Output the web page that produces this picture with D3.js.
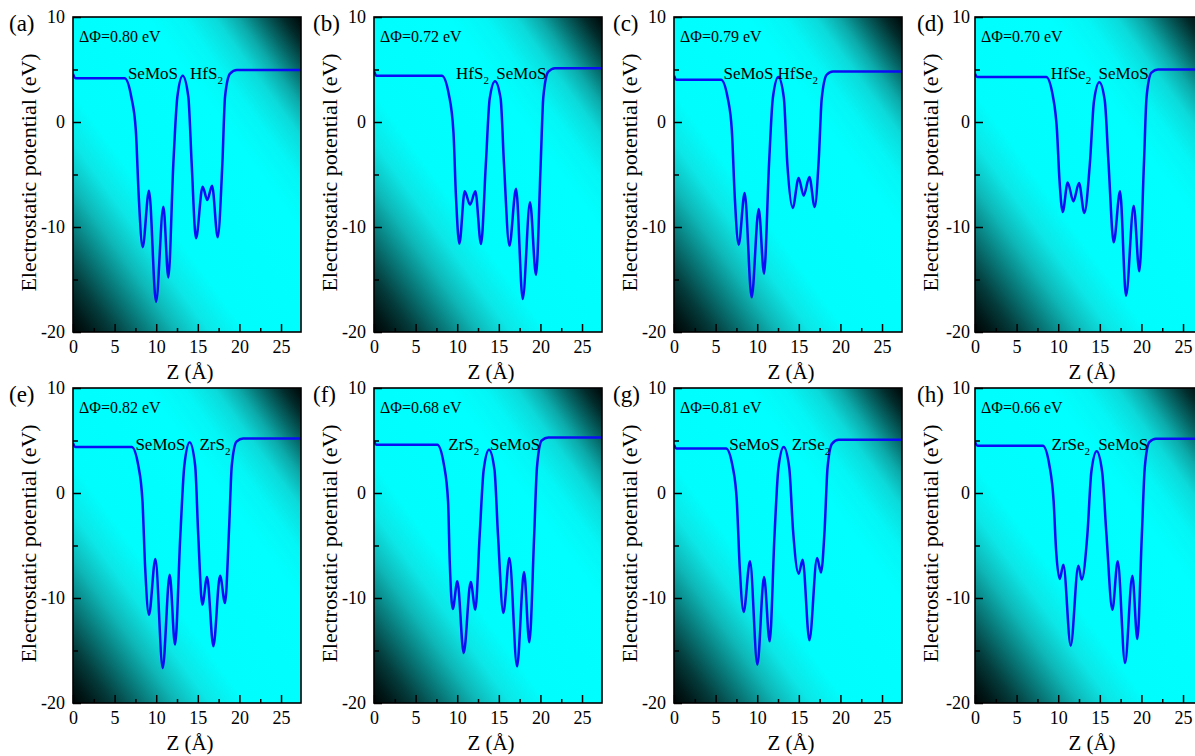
<!DOCTYPE html>
<html>
<head>
<meta charset="utf-8">
<script src="https://cdn.jsdelivr.net/npm/d3@7"></script>
<style>
  body { margin: 0; background: #fff; }
  svg text { font-family: "Liberation Serif", "Times New Roman", serif; }
</style>
</head>
<body>
<div id="chart"></div>
<script>
// Planar averaged electrostatic potential of SeMoS / MX2 heterostructures
// 8 panels, curves as [z (A), V (eV)] points
//=============================================================================

var potA = [[0, 4.57], [0.3, 4.16], [6.2, 4.16], [7.0, 2.4], [7.55, -0.8], [7.9, -7.1], [8.37, -11.93],
  [9.13, -6.54], [9.98, -17.11], [10.86, -8.06], [11.46, -14.8], [12.06, -3.94], [12.54, 2.4], [13.18, 4.41],
  [13.86, 2.4], [14.26, -3.94], [14.78, -11.08], [15.58, -6.16], [16.14, -7.43], [16.71, -6.06], [17.39, -10.98],
  [17.95, -3.94], [18.27, 2.4], [18.87, 4.6], [19.7, 4.95], [27.4, 4.95]];

var potB = [[0, 4.83], [0.3, 4.41], [8.15, 4.41], [9.0, 2.6], [9.55, -1.0], [9.85, -7.1], [10.26, -11.59],
  [10.9, -6.6], [11.54, -7.87], [12.18, -6.6], [12.86, -11.62], [13.44, -4.0], [13.9, 2.2], [14.54, 3.87],
  [15.22, 2.2], [15.62, -4.0], [16.27, -11.78], [17.07, -6.35], [17.87, -16.86], [18.75, -7.65], [19.47, -14.57],
  [20.03, -4.0], [20.35, 2.4], [20.95, 4.8], [21.75, 5.13], [27.4, 5.13]];

var potC = [[0, 4.4], [0.3, 4.03], [5.65, 4.03], [6.45, 2.3], [6.95, -0.8], [7.3, -7.1], [7.77, -11.68],
  [8.49, -6.76], [9.33, -16.7], [10.18, -8.29], [10.82, -14.44], [11.42, -4.0], [11.88, 2.3], [12.54, 4.29],
  [13.2, 2.3], [13.62, -4.0], [14.26, -8.19], [14.98, -5.33], [15.58, -7.02], [16.27, -5.24], [16.91, -8.1],
  [17.4, -3.5], [17.75, 2.2], [18.35, 4.5], [19.1, 4.82], [27.4, 4.82]];

var potD = [[0, 4.6], [0.3, 4.29], [8.55, 4.29], [9.35, 2.5], [9.85, -0.8], [10.15, -5.5], [10.54, -8.57],
  [11.14, -5.75], [11.82, -7.56], [12.5, -5.81], [13.14, -8.67], [13.8, -4.0], [14.3, 2.0], [14.94, 3.78],
  [15.6, 2.0], [16.05, -4.0], [16.67, -11.46], [17.43, -6.6], [18.15, -16.54], [19.07, -7.97], [19.75, -14.22],
  [20.3, -4.0], [20.62, 2.4], [21.2, 4.7], [22.0, 4.99], [27.4, 4.99]];

var potE = [[0, 4.75], [0.3, 4.38], [7.05, 4.38], [7.85, 2.6], [8.35, -0.8], [8.67, -7.1], [9.13, -11.59],
  [9.9, -6.29], [10.78, -16.67], [11.62, -7.78], [12.26, -14.44], [12.9, -4.0], [13.38, 2.6], [14.02, 4.83],
  [14.68, 2.6], [15.05, -4.0], [15.54, -10.63], [16.11, -8.0], [16.87, -14.6], [17.67, -7.87], [18.27, -10.48],
  [18.75, -3.5], [19.08, 2.6], [19.65, 4.9], [20.45, 5.2], [27.4, 5.2]];

var potF = [[0, 4.95], [0.3, 4.6], [7.6, 4.6], [8.4, 2.7], [8.9, -0.8], [9.1, -6.5], [9.46, -11.05],
  [10.02, -8.41], [10.78, -15.24], [11.62, -8.48], [12.18, -11.11], [12.7, -4.0], [13.18, 2.2], [13.82, 4.13],
  [14.48, 2.2], [14.9, -4.0], [15.54, -11.43], [16.27, -6.19], [17.19, -16.51], [18.03, -7.52], [18.67, -14.22],
  [19.25, -4.0], [19.58, 2.4], [20.15, 5.0], [20.95, 5.28], [27.4, 5.28]];

var potG = [[0, 4.6], [0.3, 4.25], [6.25, 4.25], [7.05, 2.5], [7.55, -0.8], [7.9, -7.1], [8.37, -11.33],
  [9.13, -6.51], [10.02, -16.35], [10.82, -8.0], [11.5, -14.13], [12.08, -4.0], [12.55, 2.4], [13.18, 4.38],
  [13.85, 2.4], [14.3, -3.5], [14.98, -7.68], [15.46, -6.35], [16.27, -14.03], [17.19, -6.19], [17.67, -7.56],
  [18.1, -3.5], [18.45, 2.4], [19.0, 4.7], [19.8, 5.06], [27.4, 5.06]];

var potH = [[0, 4.85], [0.3, 4.51], [8.15, 4.51], [8.95, 2.6], [9.45, -0.8], [9.75, -5.5], [10.18, -8.19],
  [10.62, -6.83], [11.5, -14.54], [12.42, -6.92], [12.82, -8.25], [13.5, -4.0], [13.98, 2.0], [14.62, 3.97],
  [15.28, 2.0], [15.8, -4.0], [16.51, -11.11], [17.15, -6.51], [18.03, -16.19], [18.91, -7.87], [19.51, -13.9],
  [20.05, -4.0], [20.4, 2.4], [20.95, 4.85], [21.75, 5.17], [27.4, 5.17]];

var potentials = [potA, potB, potC, potD, potE, potF, potG, potH];

// panel annotations
var panelLetters = ["(a)", "(b)", "(c)", "(d)", "(e)", "(f)", "(g)", "(h)"];
var deltaPhi = ["0.80", "0.72", "0.79", "0.70", "0.82", "0.68", "0.81", "0.66"];
var leftLayer = ["SeMoS", "HfS2", "SeMoS", "HfSe2", "SeMoS", "ZrS2", "SeMoS", "ZrSe2"];
var rightLayer = ["HfS2", "SeMoS", "HfSe2", "SeMoS", "ZrS2", "SeMoS", "ZrSe2", "SeMoS"];
var leftLayerZ = [6.6, 9.86, 5.95, 9.1, 7.5, 8.93, 6.65, 9.2];
var rightLayerZ = [14.06, 14.7, 12.45, 14.85, 15.2, 13.95, 14.15, 14.8];
var layerLabelV = 4.1;

// axes
var zMax = 27.4;
var xMajor = [0, 5, 10, 15, 20, 25];
var xMinor = [2.5, 7.5, 12.5, 17.5, 22.5];
var yMajor = [10, 0, -10, -20];
var yMinor = [5, -5, -15];

// layout
var width = 1195;
var height = 756;
var panelW = 228;
var panelH = 315;
var colLeft = [73, 374, 674, 975];
var rowTop = [17, 388];
var letterOffset = [-64, -61, -61, -58];   // panel letter x, relative to plot left
var yTickPad = [8, 8, 8, 5];

var svg = d3.select("#chart")
  .append("svg")
  .attr("width", width)
  .attr("height", height);

var defs = svg.append("defs");

// diagonal band: cyan along TL-BR diagonal, dark towards TR and BL corners
var grad = defs.append("linearGradient")
  .attr("id", "bgGrad")
  .attr("x1", 1).attr("y1", 0)
  .attr("x2", 0).attr("y2", 1);

var stops = [
  [0, "#000707"], [0.04, "#022a2a"], [0.09, "#066868"], [0.14, "#0caaaa"], [0.19, "#0cdada"],
  [0.26, "#04f6f6"], [0.34, "#00ffff"], [0.62, "#00fdfd"], [0.7, "#0ce6e6"], [0.77, "#0eb8b8"],
  [0.84, "#087a7a"], [0.91, "#043c3c"], [0.96, "#011a1a"], [1, "#000505"]
];
stops.forEach(function(s) {
  grad.append("stop").attr("offset", s[0]).attr("stop-color", s[1]);
});

defs.append("clipPath")
  .attr("id", "plotClip")
  .append("rect")
  .attr("width", panelW)
  .attr("height", panelH);

var x = d3.scaleLinear().domain([0, zMax]).range([0, panelW]);
var y = d3.scaleLinear().domain([-20, 10]).range([panelH, 0]);

var line = d3.line()
  .x(d => x(d[0]))
  .y(d => y(d[1]))
  .curve(d3.curveMonotoneX);

// text with trailing digit as subscript (HfS2 -> HfS_2)
function layerLabel(g, name, z) {
  var m = name.match(/^(.*?)(\d?)$/);
  var t = g.append("text")
    .attr("x", x(z))
    .attr("y", y(layerLabelV))
    .attr("font-size", 17);
  t.append("tspan").text(m[1]);
  if (m[2]) {
    t.append("tspan").attr("font-size", 11).attr("dy", 5).text(m[2]);
  }
}

function styleAxis(axisG) {
  axisG.select(".domain").remove();
  axisG.selectAll("line").attr("stroke", "#000").attr("stroke-width", 1.5);
  axisG.attr("font-size", 18).attr("font-family", null);
}

potentials.forEach(function(pts, i) {
  var col = i % 4;
  var left = colLeft[col];
  var top = rowTop[Math.floor(i / 4)];

  var g = svg.append("g")
    .attr("transform", `translate(${left}, ${top})`);

  g.append("rect")
    .attr("width", panelW)
    .attr("height", panelH)
    .attr("fill", "url(#bgGrad)");

  // potential curve
  g.append("path")
    .datum(pts)
    .attr("clip-path", "url(#plotClip)")
    .attr("fill", "none")
    .attr("stroke", "#0b0bf5")
    .attr("stroke-width", 2.5)
    .attr("d", line);

  // x axis (ticks inward)
  var xMaj = g.append("g")
    .attr("transform", `translate(0, ${panelH})`)
    .call(d3.axisBottom(x).tickValues(xMajor).tickSize(-8).tickPadding(8).tickFormat(d => String(d)));
  styleAxis(xMaj);

  var xMin = g.append("g")
    .attr("transform", `translate(0, ${panelH})`)
    .call(d3.axisBottom(x).tickValues(xMinor).tickSize(-4).tickFormat(""));
  styleAxis(xMin);

  // y axis
  var yMaj = g.append("g")
    .call(d3.axisLeft(y).tickValues(yMajor).tickSize(-8).tickPadding(yTickPad[col]).tickFormat(d => String(d)));
  styleAxis(yMaj);

  var yMin = g.append("g")
    .call(d3.axisLeft(y).tickValues(yMinor).tickSize(-5).tickFormat(""));
  styleAxis(yMin);

  // frame
  g.append("rect")
    .attr("width", panelW)
    .attr("height", panelH)
    .attr("fill", "none")
    .attr("stroke", "#000")
    .attr("stroke-width", 1.6);

  // labels
  g.append("text")
    .attr("x", 6)
    .attr("y", 25)
    .attr("font-size", 16)
    .text("\u0394\u03A6=" + deltaPhi[i] + " eV");

  layerLabel(g, leftLayer[i], leftLayerZ[i]);
  layerLabel(g, rightLayer[i], rightLayerZ[i]);

  g.append("text")
    .attr("x", letterOffset[col])
    .attr("y", 14)
    .attr("font-size", 23)
    .text(panelLetters[i]);

  g.append("text")
    .attr("transform", `translate(-37, ${panelH / 2 - 2}) rotate(-90)`)
    .attr("text-anchor", "middle")
    .attr("font-size", 22)
    .text("Electrostatic potential (eV)");

  g.append("text")
    .attr("x", panelW / 2 + 3)
    .attr("y", panelH + 47)
    .attr("text-anchor", "middle")
    .attr("font-size", 21)
    .text("Z (\u00C5)");
});
</script>
</body>
</html>
